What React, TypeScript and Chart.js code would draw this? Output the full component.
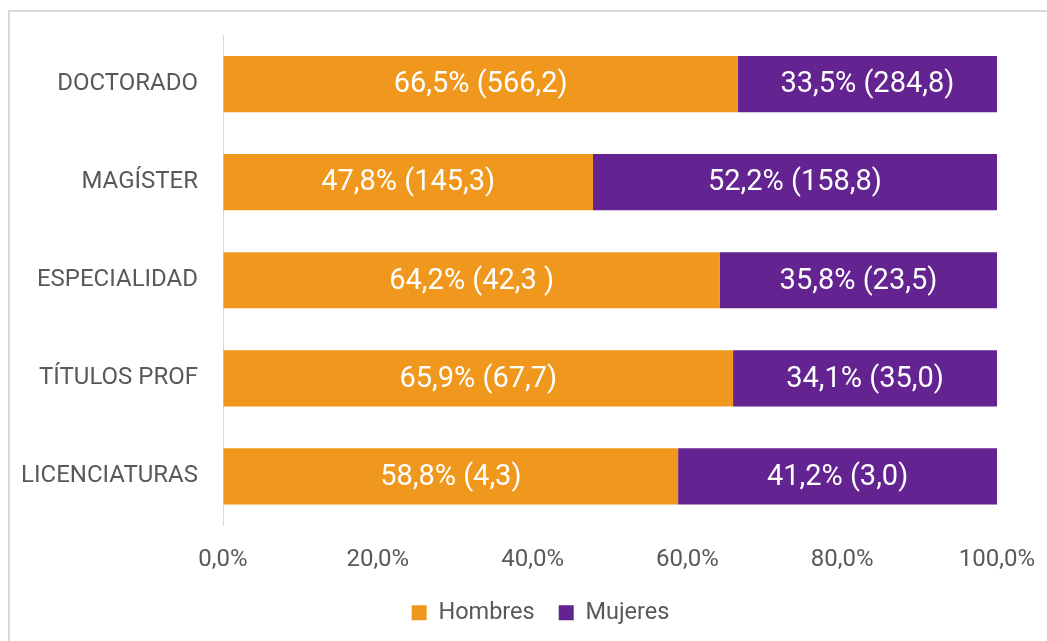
import React, { useEffect, useRef } from "react";
import { Chart, registerables } from "chart.js";

Chart.register(...registerables);

const categories = ["DOCTORADO", "MAGÍSTER", "ESPECIALIDAD", "TÍTULOS PROF", "LICENCIATURAS"];
const hombresPct = [66.5, 47.8, 64.2, 65.9, 58.8];
const mujeresPct = [33.5, 52.2, 35.8, 34.1, 41.2];
const hombresLabels = ["66,5% (566,2)", "47,8% (145,3)", "64,2% (42,3 )", "65,9% (67,7)", "58,8% (4,3)"];
const mujeresLabels = ["33,5% (284,8)", "52,2% (158,8)", "35,8% (23,5)", "34,1% (35,0)", "41,2% (3,0)"];
const xTicks = [0, 20, 40, 60, 80, 100];

const ORANGE = "#F0981D";
const PURPLE = "#632390";
const GRAY = "#595959";
const FONT = "Roboto, 'Noto Sans', sans-serif";

const segmentLabels = {
  id: "segmentLabels",
  afterDatasetsDraw(chart: any) {
    const ctx = chart.ctx;
    ctx.save();
    ctx.fillStyle = "#ffffff";
    ctx.font = `29px ${FONT}`;
    ctx.textAlign = "center";
    ctx.textBaseline = "middle";
    chart.data.datasets.forEach((ds: any, di: number) => {
      const meta = chart.getDatasetMeta(di);
      const labels = di === 0 ? hombresLabels : mujeresLabels;
      meta.data.forEach((bar: any, i: number) => {
        const { x, y, base } = bar.getProps(["x", "y", "base"], true);
        const cx = (x + base) / 2;
        ctx.fillText(labels[i], cx, y + 1);
      });
    });
    ctx.restore();
  },
};

const legendShift = {
  id: "legendShift",
  afterLayout(chart: any) {
    const lg = chart.legend;
    if (lg) {
      lg.left += 37;
      lg.right += 37;
      lg.top += 2;
      lg.bottom += 2;
    }
  },
};

export default function App() {
  const ref = useRef<HTMLCanvasElement | null>(null);

  useEffect(() => {
    document.body.style.overflow = "hidden";
    const canvas = ref.current!;
    const chart = new Chart(canvas, {
      type: "bar",
      data: {
        labels: categories,
        datasets: [
          {
            label: "Hombres",
            data: hombresPct,
            backgroundColor: ORANGE,
            categoryPercentage: 1,
            barPercentage: 0.573,
          },
          {
            label: "Mujeres",
            data: mujeresPct,
            backgroundColor: PURPLE,
            categoryPercentage: 1,
            barPercentage: 0.573,
          },
        ],
      },
      options: {
        indexAxis: "y",
        responsive: false,
        animation: false,
        maintainAspectRatio: false,
        layout: { padding: { top: 23, right: 50, left: 0, bottom: 8.5 } },
        plugins: {
          tooltip: { enabled: false },
          legend: {
            position: "bottom",
            labels: {
              color: GRAY,
              font: { family: FONT, size: 23.5 },
              boxWidth: 15,
              boxHeight: 15,
              padding: 24,
            },
          },
        },
        scales: {
          x: {
            stacked: true,
            min: 0,
            max: 100,
            afterBuildTicks: (scale: any) => {
              scale.ticks = xTicks.map((v) => ({ value: v }));
            },
            afterFit: (scale: any) => {
              scale.height = 49.5;
            },
            grid: {
              display: true,
              drawOnChartArea: false,
              drawTicks: true,
              tickLength: 20,
              color: "rgba(0,0,0,0)",
            },
            border: { display: false },
            ticks: {
              color: GRAY,
              font: { family: FONT, size: 24 },
              padding: 0,
              maxRotation: 0,
              callback: (v: any) => Number(v).toFixed(1).replace(".", ",") + "%",
            },
          },
          y: {
            stacked: true,
            afterFit: (scale: any) => {
              scale.width = 213;
            },
            grid: {
              display: true,
              drawOnChartArea: false,
              drawTicks: true,
              tickLength: 25,
              color: "rgba(0,0,0,0)",
            },
            border: { display: true, color: "#d9d9d9", width: 1 },
            ticks: {
              color: GRAY,
              font: { family: FONT, size: 24 },
              padding: 0,
            },
          },
        },
      },
      plugins: [segmentLabels, legendShift],
    });
    return () => chart.destroy();
  }, []);

  return (
    <div
      style={{
        position: "absolute",
        left: 8,
        top: 10,
        width: 1060,
        height: 660,
        border: "2px solid #d9d9d9",
        background: "#ffffff",
        boxSizing: "content-box",
      }}
    >
      <canvas ref={ref} width={1037} height={629} style={{ display: "block", width: 1037, height: 629 }} />
    </div>
  );
}
